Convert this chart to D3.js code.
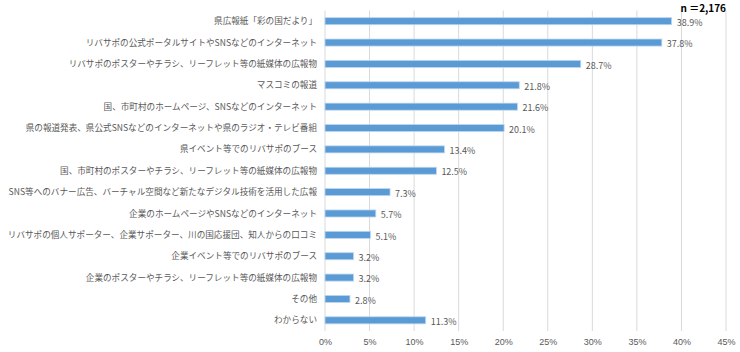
<!DOCTYPE html>
<html>
<head>
<meta charset="utf-8">
<script src="https://cdn.jsdelivr.net/npm/d3@7"></script>
<style>
    body { margin: 0; background: #fff; }
    svg { font-family: "Noto Sans CJK JP", "Noto Sans", sans-serif; }
    .cat-label { font-size: 8.6px; fill: #595959; }
    .val-label { font-size: 9px; fill: #595959; }
    .tick text { font-size: 9px; fill: #595959; }
</style>
</head>
<body>
<svg id="chart" width="740" height="352"></svg>
<script>
const categories = [
    '県広報紙「彩の国だより」',
    'リバサポの公式ポータルサイトやSNSなどのインターネット',
    'リバサポのポスターやチラシ、リーフレット等の紙媒体の広報物',
    'マスコミの報道',
    '国、市町村のホームページ、SNSなどのインターネット',
    '県の報道発表、県公式SNSなどのインターネットや県のラジオ・テレビ番組',
    '県イベント等でのリバサポのブース',
    '国、市町村のポスターやチラシ、リーフレット等の紙媒体の広報物',
    'SNS等へのバナー広告、バーチャル空間など新たなデジタル技術を活用した広報',
    '企業のホームページやSNSなどのインターネット',
    'リバサポの個人サポーター、企業サポーター、川の国応援団、知人からの口コミ',
    '企業イベント等でのリバサポのブース',
    '企業のポスターやチラシ、リーフレット等の紙媒体の広報物',
    'その他',
    'わからない'
];
const values = [38.9, 37.8, 28.7, 21.8, 21.6, 20.1, 13.4, 12.5, 7.3, 5.7, 5.1, 3.2, 3.2, 2.8, 11.3];
const xTicks = [0, 5, 10, 15, 20, 25, 30, 35, 40, 45];
const sampleNote = 'n ＝2,176';

const svg = d3.select('#chart');
const M = { left: 325, right: 14, top: 10.5, bottom: 21 };
const W = 740, H = 352;

const x = d3.scaleLinear().domain([0, 45]).range([M.left, W - M.right]);
const y = d3.scaleBand().domain(categories).range([M.top, H - M.bottom]).paddingInner(0.67).paddingOuter(0.335);

// gridlines
svg.append('g')
    .selectAll('line')
    .data(xTicks)
    .join('line')
    .attr('x1', d => x(d)).attr('x2', d => x(d))
    .attr('y1', M.top).attr('y2', H - M.bottom)
    .attr('stroke', '#d9d9d9').attr('stroke-width', 1);

// x axis labels
const xAxis = d3.axisBottom(x).tickValues(xTicks).tickFormat(d => d + '%').tickSize(0).tickPadding(8);
svg.append('g')
    .attr('transform', `translate(0, ${H - M.bottom})`)
    .call(xAxis)
    .call(g => g.select('.domain').remove());

// bars
svg.append('g')
    .selectAll('rect')
    .data(values)
    .join('rect')
    .attr('x', x(0))
    .attr('y', (d, i) => y(categories[i]))
    .attr('width', d => x(d) - x(0))
    .attr('height', y.bandwidth())
    .attr('fill', '#5b9bd5')
    .attr('stroke', '#bdd7ee')
    .attr('stroke-width', 0.8);

// value labels (sit a little below the bar centre, like the original)
svg.append('g')
    .selectAll('text')
    .data(values)
    .join('text')
    .attr('class', 'val-label')
    .attr('x', d => x(d) + 5)
    .attr('y', (d, i) => y(categories[i]) + y.bandwidth() / 2 + 1.5)
    .attr('dy', '0.36em')
    .text(d => d.toFixed(1) + '%');

// category labels
svg.append('g')
    .selectAll('text')
    .data(categories)
    .join('text')
    .attr('class', 'cat-label')
    .attr('x', M.left - 8)
    .attr('y', d => y(d) + y.bandwidth() / 2)
    .attr('dy', '0.36em')
    .attr('text-anchor', 'end')
    .text(d => d);

svg.append('text')
    .attr('x', 726)
    .attr('y', 12)
    .attr('text-anchor', 'end')
    .attr('font-size', 10)
    .attr('font-weight', 'bold')
    .attr('fill', '#000')
    .text(sampleNote);
</script>
</body>
</html>
